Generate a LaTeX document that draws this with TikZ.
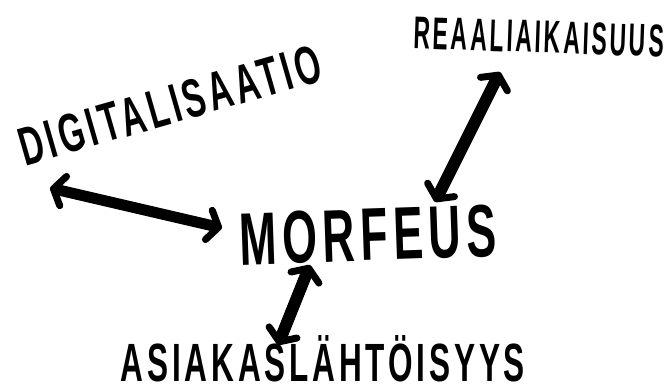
\documentclass[tikz,border=0pt]{standalone}
\usepackage{fontspec}
\setmainfont{Liberation Sans}[LetterSpace=12]
\usetikzlibrary{arrows.meta}
\tikzset{
  marker/.style={inner sep=0pt, font=\bfseries, text=black},
  barb/.tip={Straight Barb[length=10pt, width=30pt, line width=7pt, round]},
  dblarrow/.style={line width=11pt, line cap=round, draw=black, barb-barb},
}
\begin{document}
\begin{tikzpicture}[x=1pt, y=-1pt]
  \fill[white] (0,0) rectangle (664,390);
  \useasboundingbox (0,0) rectangle (664,390);

  % labels
  \node[marker, rotate=16] (digi) at (170,105)
    {\resizebox{312pt}{38pt}{DIGITALISAATIO}};
  \node[marker, rotate=-2] (reaali) at (539,37)
    {\resizebox{250pt}{32pt}{REAALIAIKAISUUS}};
  \node[marker, rotate=2] (morfeus) at (368,235)
    {\resizebox{256pt}{52pt}{MORFEUS}};
  \node[marker] (asiakas) at (323,359)
    {\resizebox{404pt}{46pt}{ASIAKASLÄHTÖISYYS}};

  % arrow ends
  \coordinate (digiEnd) at (50,188);
  \coordinate (morfLeft) at (222,228);
  \coordinate (reaaliEnd) at (500,72);
  \coordinate (morfTop) at (435,202);
  \coordinate (morfBottom) at (310,265);
  \coordinate (asiakasEnd) at (278,345);

  % double-headed connectors
  \draw[dblarrow] (digiEnd) -- (morfLeft);
  \draw[dblarrow, line width=12pt] (reaaliEnd) -- (morfTop);
  \draw[dblarrow, line width=12pt] (morfBottom) -- (asiakasEnd);
\end{tikzpicture}
\end{document}
